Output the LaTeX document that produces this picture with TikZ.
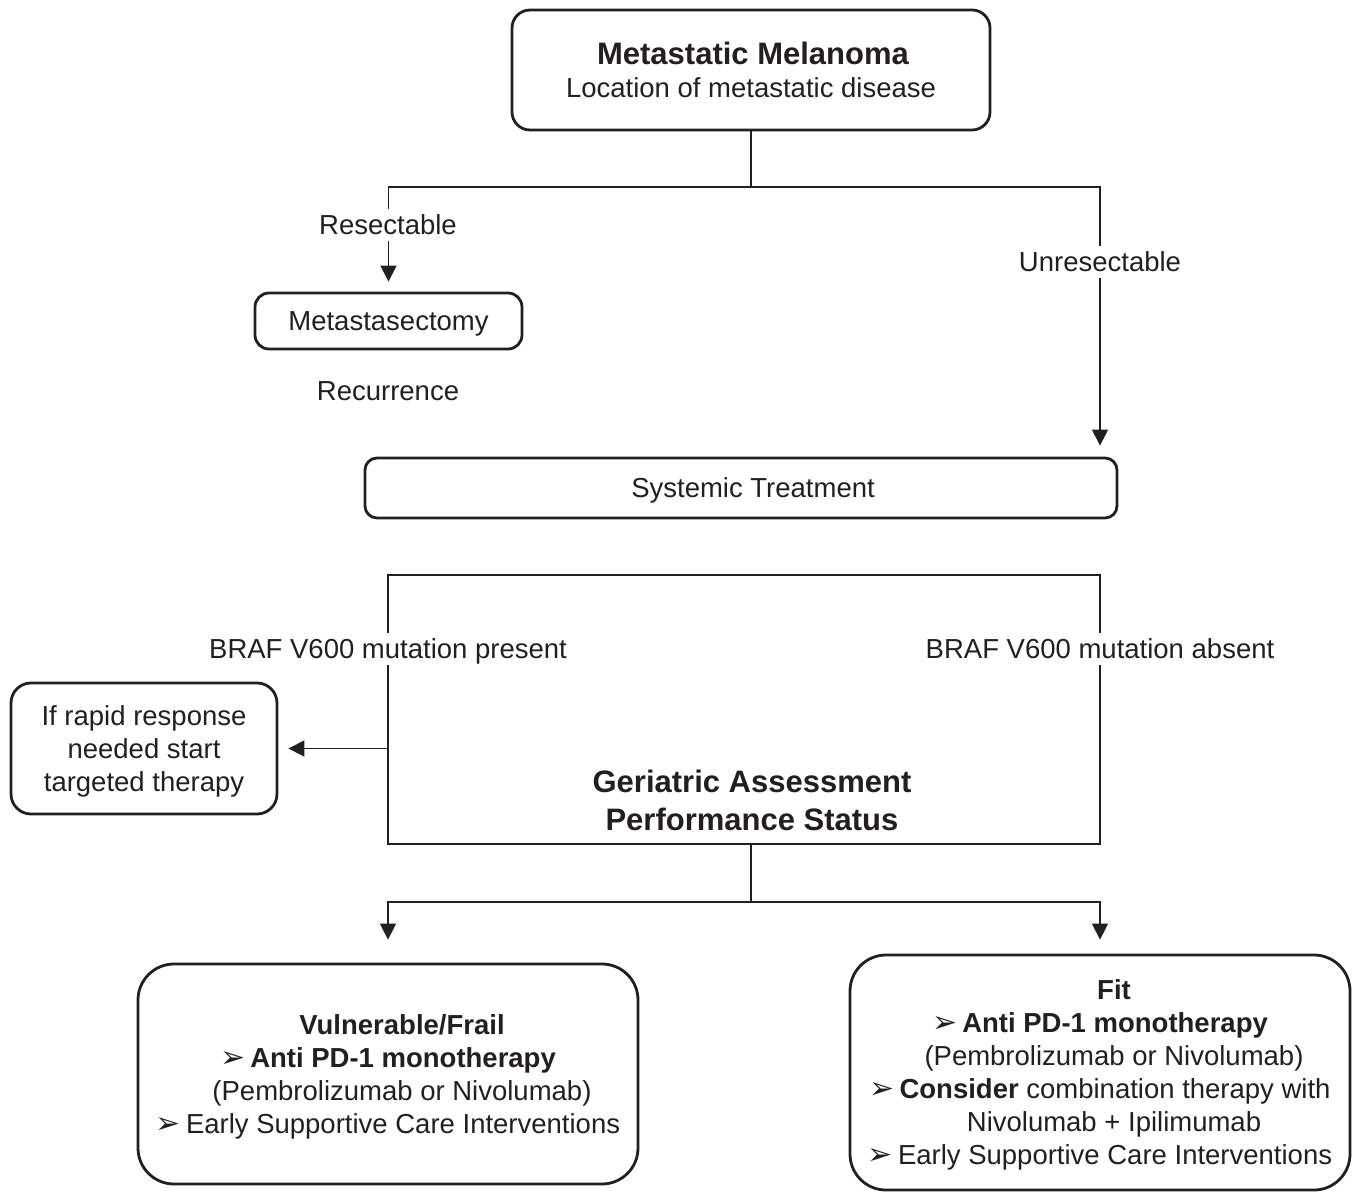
\documentclass[tikz,border=0pt]{standalone}
\usepackage{fontspec}
\setmainfont{Liberation Sans}
\newfontfamily\dv{DejaVu Sans}
\usetikzlibrary{arrows.meta}
\definecolor{ink}{HTML}{231F20}
\newcommand{\bul}{{\dv\fontsize{30}{33}\selectfont ➢}\hspace{5pt}}
\newcommand{\ind}{\hspace*{28pt}}
\begin{document}
\begin{tikzpicture}[x=1pt,y=-1pt,
  every node/.style={text=ink},
  txt/.style={font=\fontsize{27.5}{33}\selectfont, align=center, inner sep=0pt},
  hd/.style={font=\fontsize{31}{38}\selectfont\bfseries, align=center, inner sep=0pt},
  rbox/.style={draw=ink, line width=2.8pt, rounded corners=#1, inner sep=0pt, align=center, text depth=0pt, font=\fontsize{27.5}{33}\selectfont},
  lab/.style={txt, fill=white, inner xsep=2pt, inner ysep=6pt, text depth=0pt},
  ln/.style={draw=ink, line width=1.4pt},
  arr/.style={ln, -{Triangle[length=16pt,width=16pt]}}
]
\useasboundingbox (0,0) rectangle (1360,1192);

% boxes
\node[rbox=18pt, minimum width=478pt, minimum height=120pt] (top) at (751,70)
  {\hspace*{4pt}{\fontsize{31}{35}\selectfont\bfseries Metastatic Melanoma}\\Location of metastatic disease};
\node[rbox=14pt, minimum width=267pt, minimum height=56pt] (meta) at (388.5,321) {Metastasectomy};
\node[txt] (rec) at (388,391) {Recurrence};
\node[rbox=12pt, minimum width=752pt, minimum height=60pt] (sys) at (741,488) {\hspace*{24pt}Systemic Treatment};
\node[draw=ink, line width=1.4pt, minimum width=712pt, minimum height=269pt, inner sep=0pt] (ga) at (744,709.5) {};
\node[hd] (gatext) at (752,800) {Geriatric Assessment\\Performance Status};
\node[rbox=20pt, minimum width=266pt, minimum height=131pt] (rapid) at (144,748.5)
  {If rapid response\\needed start\\targeted therapy};
\node[rbox=36pt, minimum width=500pt, minimum height=220pt] (vul) at (388,1074)
  {\ind\textbf{Vulnerable/Frail}\\\bul\textbf{Anti PD-1 monotherapy}\\\ind(Pembrolizumab or Nivolumab)\\\bul Early Supportive Care Interventions};
\node[rbox=36pt, minimum width=500pt, minimum height=235pt] (fit) at (1100,1072.5)
  {\ind\textbf{Fit}\\\bul\textbf{Anti PD-1 monotherapy}\\\ind(Pembrolizumab or Nivolumab)\\\bul\textbf{Consider} combination therapy with\\\ind Nivolumab + Ipilimumab\\\bul Early Supportive Care Interventions};

% connectors
\coordinate (j1) at (751,187);
\coordinate (j2) at (751,902);
\draw[ln] (top.south) -- (j1);
\draw[arr, shorten >=10pt] (j1) -| (meta.north);
\draw[arr, shorten >=11pt] (j1) -| (sys.north -| 1100,0);
\draw[arr, shorten >=10pt] (ga.west |- rapid.east) -- (rapid.east);
\draw[ln] (ga.south -| j2) -- (j2);
\draw[arr, shorten >=23pt] (j2) -| (vul.north);
\draw[arr, shorten >=14pt] (j2) -| (fit.north);

% labels on lines
\node[lab] (res) at (388,225) {Resectable};
\node[lab] (unres) at (1100,262) {Unresectable};
\node[lab] (bp) at (388,649) {BRAF V600 mutation present};
\node[lab] (ba) at (1100,649) {BRAF V600 mutation absent};
\end{tikzpicture}
\end{document}
